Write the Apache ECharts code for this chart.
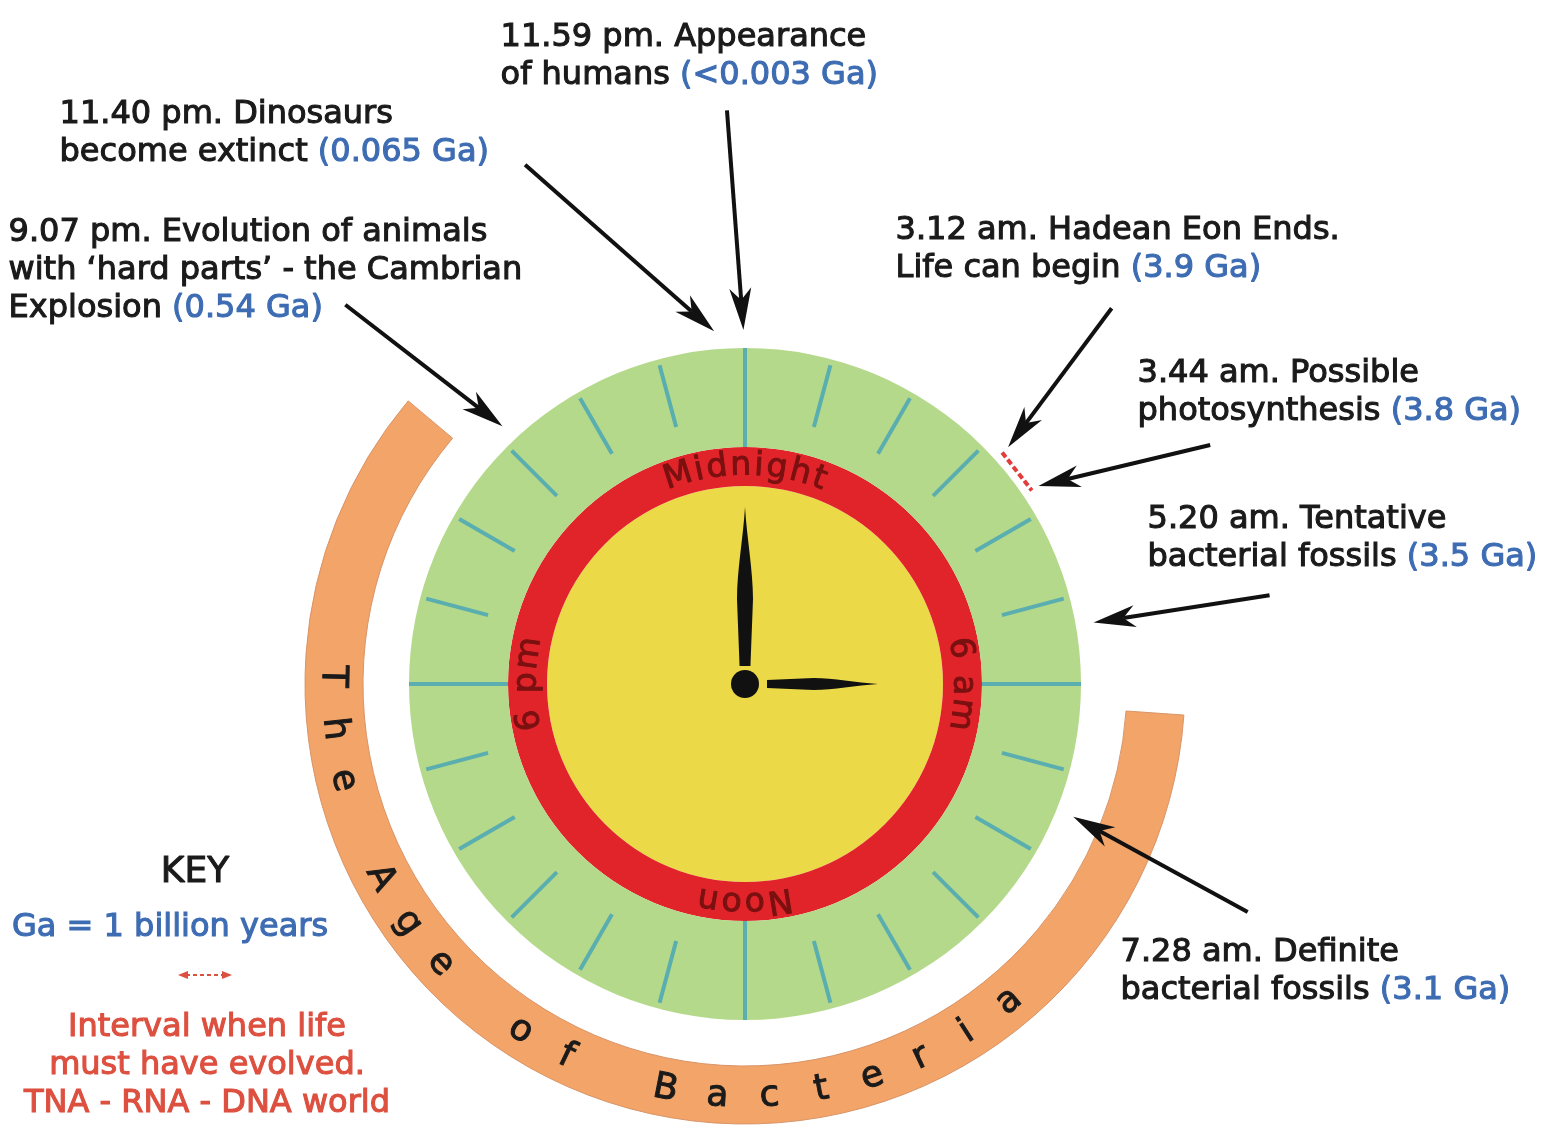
<!DOCTYPE html>
<html>
<head>
<meta charset="utf-8">
<title>Earth history on a 24-hour clock</title>
<script src="https://cdn.jsdelivr.net/npm/echarts@6/dist/echarts.min.js"></script>
<style>
  html, body { margin: 0; padding: 0; background: #fff; }
  #chart { width: 1557px; height: 1125px; }
</style>
</head>
<body>
<div id="chart"></div>
<script>
  // events, as time on the 24 hour dial (hours after midnight)
  var eventTimes = [23.983, 23.667, 21.117, 3.2, 3.733, 5.333, 7.467];
  var eventTexts = [
    '11.59 pm. Appearance\nof humans',
    '11.40 pm. Dinosaurs\nbecome extinct',
    '9.07 pm. Evolution of animals\nwith \u2018hard parts\u2019 - the Cambrian\nExplosion',
    '3.12 am. Hadean Eon Ends.\nLife can begin',
    '3.44 am. Possible\nphotosynthesis',
    '5.20 am. Tentative\nbacterial fossils',
    '7.28 am. Definite\nbacterial fossils'
  ];
  var eventAges = ['(<0.003 Ga)', '(0.065 Ga)', '(0.54 Ga)', '(3.9 Ga)', '(3.8 Ga)', '(3.5 Ga)', '(3.1 Ga)'];

  var dialLabels = ['Midnight', '6 am', 'Noon', '6 pm'];
  var dialLabelHours = [0, 6, 12, 18];
  var handHours = [0, 6];               // long hand, short hand
  var bacteriaSpan = [6.27, 20.67];     // orange band, hours
  var bacteriaText = 'The Age of Bacteria';
  var lifeInterval = [3.2, 3.733];      // red mark

  // layout only
  var CX = 745, CY = 684;
  var labelAnchors = [[500, 19], [59, 96], [8, 214], [895, 212], [1137, 355], [1147, 501], [1120, 934]];
  var arrowTails = [[574, 23.88], [564, 22.47], [551, 20.9], [525, 2.953], [523, 4.187], [532, 5.36], [552, 7.627]];
  var ARROW_TIP_R = 354;

  var BLUE = '#3d6cb3', INK = '#1a1a1a', SALMON = '#dd4f3f';
  var FONT = '"DejaVu Sans", Verdana, sans-serif';

  var measureCtx = document.createElement('canvas').getContext('2d');

  // characters of a label bent around the dial, reading clockwise
  function dialGlyphs(text, radius, hour, size, spacing) {
    measureCtx.font = size + 'px "DejaVu Sans"';
    var widths = text.split('').map(function (c) { return measureCtx.measureText(c).width + spacing; });
    var total = widths.reduce(function (a, b) { return a + b; }, 0);
    var acc = -total / 2, out = [];
    widths.forEach(function (w, i) {
      var off = acc + w / 2;
      acc += w;
      out.push({ ch: text[i], value: [radius, hour + off / radius * 180 / Math.PI / 15] });
    });
    return out;
  }

  var dialChars = [];
  dialLabels.forEach(function (t, i) {
    dialChars = dialChars.concat(dialGlyphs(t, 218, dialLabelHours[i], 33, 3));
  });

  // "The Age of Bacteria" runs anticlockwise along the orange band, evenly spaced
  var bacStart = 18.07, bacEnd = 9.35;
  var bacChars = bacteriaText.split('').map(function (c, i, arr) {
    return { ch: c, value: [413, bacStart - i * (bacStart - bacEnd) / (arr.length - 1)] };
  });

  function glyphSeries(chars, size, color, flip) {
    return {
      type: 'custom',
      coordinateSystem: 'polar',
      silent: true,
      z: 5,
      data: chars.map(function (g) { return g.value; }),
      renderItem: function (params, api) {
        var ch = chars[params.dataIndex].ch;
        if (ch === ' ') return null;
        var p = api.coord([api.value(0), api.value(1)]);
        var theta = api.value(1) * 15 * Math.PI / 180;
        return {
          type: 'text',
          x: p[0], y: p[1],
          rotation: flip ? Math.PI - theta : -theta,
          style: {
            text: ch, fontSize: size, fontFamily: FONT, fill: color,
            stroke: color, lineWidth: 1,
            align: 'center', verticalAlign: 'middle'
          }
        };
      }
    };
  }

  var chart = echarts.init(document.getElementById('chart'));

  // semi-bold look: thin outline in the text colour
  function heavy(color) {
    return { fill: color, stroke: color, lineWidth: 1.1 };
  }

  var graphics = eventTexts.map(function (t, i) {
    return {
      type: 'text',
      left: labelAnchors[i][0],
      top: labelAnchors[i][1],
      style: Object.assign({
        text: t + ' {ga|' + eventAges[i] + '}',
        fontSize: 32, fontFamily: FONT, lineHeight: 38,
        rich: { ga: Object.assign({ fontSize: 32, fontFamily: FONT, lineHeight: 38 }, heavy(BLUE)) }
      }, heavy(INK))
    };
  });
  graphics.push(
    { type: 'text', x: 195, y: 873, style: Object.assign({ text: 'KEY', fontSize: 36, fontFamily: FONT, align: 'center', verticalAlign: 'middle' }, heavy(INK)) },
    { type: 'text', x: 12, y: 928, style: Object.assign({ text: 'Ga = 1 billion years', fontSize: 32, fontFamily: FONT, align: 'left', verticalAlign: 'middle' }, heavy(BLUE)) },
    { type: 'line', shape: { x1: 186, y1: 975, x2: 224, y2: 975 }, style: { stroke: SALMON, lineWidth: 2, lineDash: [4, 3] } },
    { type: 'polygon', shape: { points: [[178, 975], [188, 971], [188, 979]] }, style: { fill: SALMON } },
    { type: 'polygon', shape: { points: [[232, 975], [222, 971], [222, 979]] }, style: { fill: SALMON } },
    { type: 'text', x: 207, y: 1066, style: Object.assign({ text: 'Interval when life\nmust have evolved.\nTNA - RNA - DNA world', fontSize: 32, fontFamily: FONT, lineHeight: 38, align: 'center', verticalAlign: 'middle' }, heavy(SALMON)) }
  );

  var option = {
    animation: false,
    backgroundColor: '#fff',
    polar: { center: [CX, CY], radius: 500 },
    angleAxis: { type: 'value', min: 0, max: 24, startAngle: 90, clockwise: true, show: false },
    radiusAxis: { type: 'value', min: 0, max: 500, show: false },
    graphic: graphics,
    series: [
      {
        type: 'pie', center: [CX, CY], radius: [382, 440], silent: true,
        startAngle: 90 - bacteriaSpan[0] * 15, clockwise: true,
        label: { show: false }, labelLine: { show: false }, emphasis: { disabled: true },
        data: [
          { value: bacteriaSpan[1] - bacteriaSpan[0], itemStyle: { color: '#f2a469', borderColor: '#d99468', borderWidth: 1 } },
          { value: 24 - (bacteriaSpan[1] - bacteriaSpan[0]), itemStyle: { color: 'rgba(0,0,0,0)' } }
        ]
      },
      {
        type: 'pie', center: [CX, CY], radius: [0, 198], silent: true,
        label: { show: false }, labelLine: { show: false }, emphasis: { disabled: true },
        data: [{ value: 1, itemStyle: { color: '#ecd948' } }]
      },
      {
        type: 'pie', center: [CX, CY], radius: [198, 237], silent: true,
        label: { show: false }, labelLine: { show: false }, emphasis: { disabled: true },
        data: [{ value: 1, itemStyle: { color: '#e0242a' } }]
      },
      {
        type: 'gauge', center: [CX, CY], radius: 336, startAngle: 90, endAngle: -270,
        min: 0, max: 24, splitNumber: 4, silent: true, z: 3,
        axisLine: { lineStyle: { width: 99, color: [[1, '#b4d98a']] } },
        splitLine: { distance: -99, length: 99, lineStyle: { color: '#5aaeb0', width: 4 } },
        axisTick: { splitNumber: 6, distance: -93, length: 64, lineStyle: { color: '#5aaeb0', width: 4 } },
        axisLabel: { show: false },
        progress: { show: false },
        title: { show: false },
        detail: { show: false },
        pointer: {
          icon: 'path://M50,0 C62,20 100,40 100,58 L84,100 L16,100 L0,58 C0,40 38,20 50,0 Z',
          itemStyle: { color: '#111' }
        },
        anchor: { show: true, showAbove: true, size: 28, itemStyle: { color: '#111' } },
        data: [
          { value: handHours[0], pointer: { length: 159, width: 16, offsetCenter: [0, -18] } },
          { value: handHours[1], pointer: { length: 111, width: 12, offsetCenter: [0, -22] } }
        ]
      },
      glyphSeries(dialChars, 33, '#7a1010', false),
      glyphSeries(bacChars, 36, '#1a1a1a', true),
      {
        type: 'line', coordinateSystem: 'polar', silent: true, symbol: 'none', z: 6,
        lineStyle: { color: '#e23c3c', width: 4, type: [6, 3] },
        data: lifeInterval.map(function (h) { return [346, h]; })
      },
      {
        type: 'custom', coordinateSystem: 'polar', silent: true, z: 7,
        data: eventTimes.map(function (t, i) { return [ARROW_TIP_R, t, arrowTails[i][0], arrowTails[i][1]]; }),
        renderItem: function (params, api) {
          var tip = api.coord([api.value(0), api.value(1)]);
          var tail = api.coord([api.value(2), api.value(3)]);
          var dx = tip[0] - tail[0], dy = tip[1] - tail[1];
          var len = Math.sqrt(dx * dx + dy * dy);
          var ux = dx / len, uy = dy / len, nx = -uy, ny = ux;
          var H = 42, W = 11, N = 30;
          var base = [tip[0] - ux * N, tip[1] - uy * N];
          return {
            type: 'group',
            children: [
              { type: 'line', shape: { x1: tail[0], y1: tail[1], x2: base[0], y2: base[1] }, style: { stroke: '#111', lineWidth: 4 } },
              {
                type: 'polygon',
                shape: { points: [tip, [tip[0] - ux * H + nx * W, tip[1] - uy * H + ny * W], base, [tip[0] - ux * H - nx * W, tip[1] - uy * H - ny * W]] },
                style: { fill: '#111' }
              }
            ]
          };
        }
      }
    ]
  };

  chart.setOption(option);
  window.addEventListener('resize', function () { chart.resize(); });
</script>
</body>
</html>
